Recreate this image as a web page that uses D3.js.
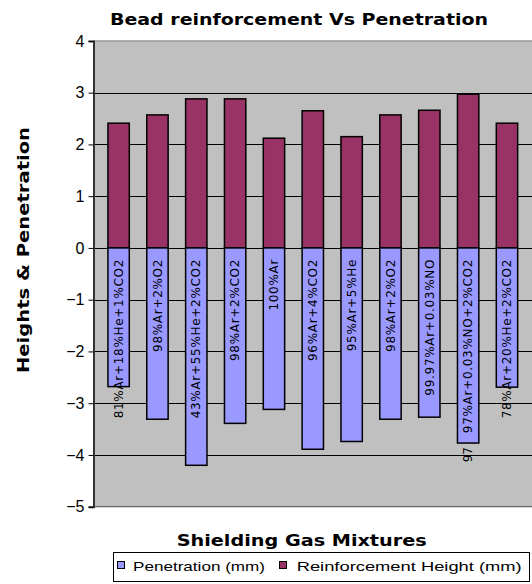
<!DOCTYPE html>
<html><head><meta charset="utf-8">
<script src="https://cdn.jsdelivr.net/npm/d3@7"></script>
<style>body{margin:0;background:#fff}svg{display:block}</style>
</head><body>
<script>
const categories = ["81%Ar+18%He+1%CO2","98%Ar+2%O2","43%Ar+55%He+2%CO2","98%Ar+2%CO2","100%Ar","96%Ar+4%CO2","95%Ar+5%He","98%Ar+2%O2","99.97%Ar+0.03%NO","97%Ar+0.03%NO+2%CO2","78%Ar+20%He+2%CO2"];
const penetration = [-2.68,-3.31,-4.2,-3.39,-3.12,-3.89,-3.74,-3.31,-3.27,-3.77,-2.69];
const reinforcement = [2.41,2.57,2.88,2.88,2.12,2.65,2.15,2.57,2.66,2.97,2.41];
const yTicks = [4,3,2,1,0,-1,-2,-3,-4,-5];
const seriesNames = ["Penetration (mm)","Reinforcement Height (mm)"];
const colors = ["#9999FF","#993366"];

const W=532,H=584;
const svg=d3.select("body").append("svg").attr("width",W).attr("height",H);
const y=d3.scaleLinear().domain([-5,4]).range([506.7,40.9]);
const x=d3.scaleBand().domain(d3.range(categories.length)).range([99.2,526.4]).paddingInner(0.45).paddingOuter(0.225);
const plotL=93.5, plotR=540;

svg.append("rect").attr("x",plotL).attr("y",y(4)).attr("width",plotR-plotL).attr("height",y(-5)-y(4)).attr("fill","#C0C0C0");
svg.append("line").attr("x1",plotL).attr("x2",plotR).attr("y1",y(4)).attr("y2",y(4)).attr("stroke","#999").attr("stroke-width",1.5);
// gridlines
svg.append("g").selectAll("line").data(yTicks.filter(d=>d<4&&d>-5)).join("line")
 .attr("x1",plotL).attr("x2",plotR).attr("y1",d=>Math.round(y(d))+0.5).attr("y2",d=>Math.round(y(d))+0.5)
 .attr("stroke","#000").attr("stroke-width",1.2);
svg.append("line").attr("x1",plotL).attr("x2",plotR).attr("y1",y(-5)).attr("y2",y(-5)).attr("stroke","#666").attr("stroke-width",1.2);

// bars
const bw=x.bandwidth();
svg.append("g").selectAll("rect").data(reinforcement).join("rect")
 .attr("x",(d,i)=>x(i)).attr("width",bw).attr("y",d=>y(d)).attr("height",d=>y(0)-y(d))
 .attr("fill",colors[1]).attr("stroke","#000").attr("stroke-width",1.5);
svg.append("g").selectAll("rect").data(penetration).join("rect")
 .attr("x",(d,i)=>x(i)).attr("width",bw).attr("y",y(0)).attr("height",d=>y(d)-y(0))
 .attr("fill",colors[0]).attr("stroke","#000").attr("stroke-width",1.5);

// y axis
const yAxis=d3.axisLeft(y).tickValues(yTicks).tickSize(5).tickFormat(d3.format("d"));
const ga=svg.append("g").attr("transform",`translate(${plotL},0)`).call(yAxis);
ga.select(".domain").attr("stroke","#333").attr("stroke-width",2);
ga.selectAll(".tick line").attr("stroke","#000");
ga.selectAll(".tick text").attr("font-family","Liberation Sans, Arial, sans-serif").attr("font-size",16).attr("fill","#000").attr("x",-9);

// category labels
svg.append("g").selectAll("text").data(categories).join("text")
 .attr("transform",(d,i)=>`translate(${x(i)+bw/2},${y(0)+11}) rotate(-90)`)
 .attr("text-anchor","end").attr("dy","0.35em")
 .attr("font-family","DejaVu Sans, Verdana, sans-serif").attr("font-size",12).attr("letter-spacing","0.7px")
 .attr("fill","#000").text(d=>d);
// clipped second-line fragment under bar 10
svg.append("text").attr("transform",`translate(${x(9)+bw/2},${y(-3.77)+4}) rotate(-90)`)
 .attr("text-anchor","end").attr("dy","0.35em")
 .attr("font-family","DejaVu Sans, Verdana, sans-serif").attr("font-size",12).text("97");

// titles
svg.append("text").attr("x",299).attr("y",25).attr("text-anchor","middle")
 .attr("font-family","DejaVu Sans, Verdana, sans-serif").attr("font-weight","bold").attr("font-size",16)
 .attr("textLength",378).attr("lengthAdjust","spacingAndGlyphs").text("Bead reinforcement Vs Penetration");
svg.append("text").attr("transform","translate(29,250) rotate(-90)").attr("text-anchor","middle")
 .attr("font-family","DejaVu Sans, Verdana, sans-serif").attr("font-weight","bold").attr("font-size",15)
 .attr("textLength",246).attr("lengthAdjust","spacingAndGlyphs").text("Heights & Penetration");
svg.append("text").attr("x",301.7).attr("y",546).attr("text-anchor","middle")
 .attr("font-family","DejaVu Sans, Verdana, sans-serif").attr("font-weight","bold").attr("font-size",16)
 .attr("textLength",250).attr("lengthAdjust","spacingAndGlyphs").text("Shielding Gas Mixtures");

// legend
const lg=svg.append("g");
lg.append("rect").attr("x",113.5).attr("y",552.5).attr("width",416).attr("height",29).attr("fill","#fff").attr("stroke","#000");
const items=[{x:117,tx:133,len:132},{x:279,tx:296.7,len:225}];
items.forEach((it,i)=>{
  lg.append("rect").attr("x",it.x+0.5).attr("y",561.5).attr("width",7).attr("height",7).attr("fill",colors[i]).attr("stroke","#000");
  lg.append("text").attr("x",it.tx).attr("y",570.5).attr("font-family","Liberation Sans, Arial, sans-serif").attr("font-size",13)
   .attr("textLength",it.len).attr("lengthAdjust","spacingAndGlyphs").text(seriesNames[i]);
});
</script>
</body></html>
